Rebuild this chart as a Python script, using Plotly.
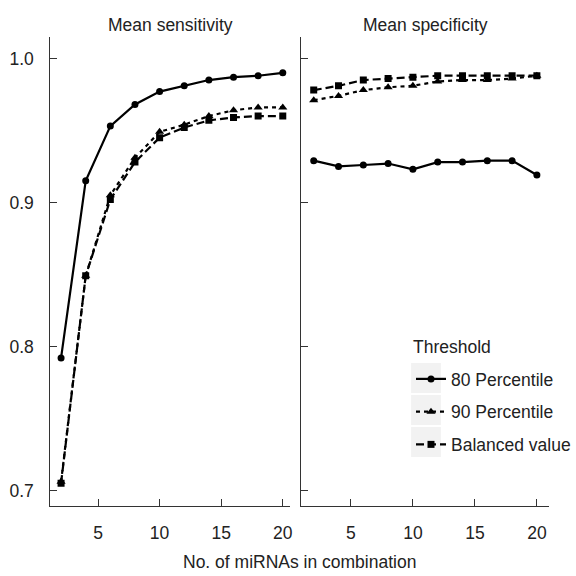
import plotly.graph_objects as go

# ---- data ----
n_mirnas = [2, 4, 6, 8, 10, 12, 14, 16, 18, 20]

sens_p80 = [0.792, 0.915, 0.953, 0.968, 0.977, 0.981, 0.985, 0.987, 0.988, 0.990]
sens_p90 = [0.706, 0.849, 0.905, 0.931, 0.949, 0.954, 0.960, 0.964, 0.966, 0.966]
sens_bal = [0.705, 0.849, 0.902, 0.928, 0.945, 0.952, 0.957, 0.959, 0.960, 0.960]

spec_p80 = [0.929, 0.925, 0.926, 0.927, 0.923, 0.928, 0.928, 0.929, 0.929, 0.919]
spec_p90 = [0.971, 0.974, 0.978, 0.980, 0.981, 0.984, 0.985, 0.985, 0.986, 0.988]
spec_bal = [0.978, 0.981, 0.985, 0.986, 0.987, 0.988, 0.988, 0.988, 0.988, 0.988]

series_names = ["80 Percentile", "90 Percentile", "Balanced value"]
panel_titles = ["Mean sensitivity", "Mean specificity"]
legend_title = "Threshold"
x_title = "No. of miRNAs in combination"
x_ticks = [5, 10, 15, 20]
y_ticks = [0.7, 0.8, 0.9, 1.0]
y_ticklabels = ["0.7", "0.8", "0.9", "1.0"]

FONT = "Liberation Sans, Arial, Helvetica, sans-serif"
TXT = "#222222"
AX = "#333333"

styles = [
    dict(dash="solid", symbol="circle", size=7),
    dict(dash="4px,4px", symbol="triangle-up", size=8),
    dict(dash="8px,4px", symbol="square", size=7),
]

fig = go.Figure()
sens = [sens_p80, sens_p90, sens_bal]
spec = [spec_p80, spec_p90, spec_bal]
for i, name in enumerate(series_names):
    st = styles[i]
    fig.add_trace(go.Scatter(
        x=n_mirnas, y=sens[i], mode="lines+markers", name=name,
        legendgroup=name, showlegend=True,
        line=dict(color="black", width=2.2, dash=st["dash"]),
        marker=dict(color="black", symbol=st["symbol"], size=st["size"]),
        xaxis="x", yaxis="y"))
    fig.add_trace(go.Scatter(
        x=n_mirnas, y=spec[i], mode="lines+markers", name=name,
        legendgroup=name, showlegend=False,
        line=dict(color="black", width=2.2, dash=st["dash"]),
        marker=dict(color="black", symbol=st["symbol"], size=st["size"]),
        xaxis="x2", yaxis="y2"))

W = 576.0
H = 576.0
xd1 = [50.7 / W, 291.7 / W]
xd2 = [303.3 / W, 553 / W]
yd = [1 - 505.5 / H, 1 - 36.7 / H]

axis_common = dict(
    showline=True, linecolor=AX, linewidth=1, ticks="inside", ticklen=7,
    tickcolor=AX, tickwidth=1, showgrid=False, zeroline=False,
    tickfont=dict(family=FONT, size=17.5, color=TXT),
)

fig.update_layout(
    width=576, height=576,
    margin=dict(l=0, r=0, t=0, b=0),
    paper_bgcolor="white", plot_bgcolor="white",
    font=dict(family=FONT, size=17.5, color=TXT),
    xaxis=dict(domain=xd1, range=[1.13, 20.56], tickvals=x_ticks, anchor="y",
               ticklabelstandoff=11, **axis_common),
    xaxis2=dict(domain=xd2, range=[0.99, 20.99], tickvals=x_ticks, anchor="y2",
                ticklabelstandoff=11, **axis_common),
    yaxis=dict(domain=yd, range=[0.6895, 1.0151], tickvals=y_ticks,
               ticktext=y_ticklabels, anchor="x", ticklabelstandoff=12, **axis_common),
    yaxis2=dict(domain=yd, range=[0.6895, 1.0151], tickvals=y_ticks,
                showticklabels=False, anchor="x2", **axis_common),
    legend=dict(
        x=414 / W, y=1 - 361 / H, xanchor="left", yanchor="top",
        bgcolor="rgba(0,0,0,0)",
        font=dict(family=FONT, size=17.5, color=TXT),
        tracegroupgap=7, traceorder="grouped", itemwidth=30,
    ),
    showlegend=True,
)

# panel titles
for i, t in enumerate(panel_titles):
    xd = xd1 if i == 0 else xd2
    fig.add_annotation(text=t, x=(xd[0] + xd[1]) / 2, y=1 - 25 / H,
                       xref="paper", yref="paper", showarrow=False,
                       font=dict(family=FONT, size=17.5, color=TXT),
                       xanchor="center", yanchor="middle")

fig.add_annotation(text=x_title, x=(xd1[0] + xd2[1]) / 2,
                   y=1 - 562 / H, xref="paper", yref="paper", showarrow=False,
                   font=dict(family=FONT, size=17.5, color=TXT),
                   xanchor="center", yanchor="middle")

fig.add_annotation(text=legend_title, x=414 / W, y=1 - 347 / H,
                   xref="paper", yref="paper", showarrow=False,
                   font=dict(family=FONT, size=17.5, color=TXT),
                   xanchor="left", yanchor="middle")

# gray legend key backgrounds
for k in range(3):
    top = 363 + k * 32
    fig.add_shape(type="rect", xref="paper", yref="paper",
                  x0=414 / W, x1=444 / W, y0=1 - (top + 30) / H, y1=1 - top / H,
                  fillcolor="#f2f2f2", line=dict(width=0), layer="below")

fig.write_html("out.html")
